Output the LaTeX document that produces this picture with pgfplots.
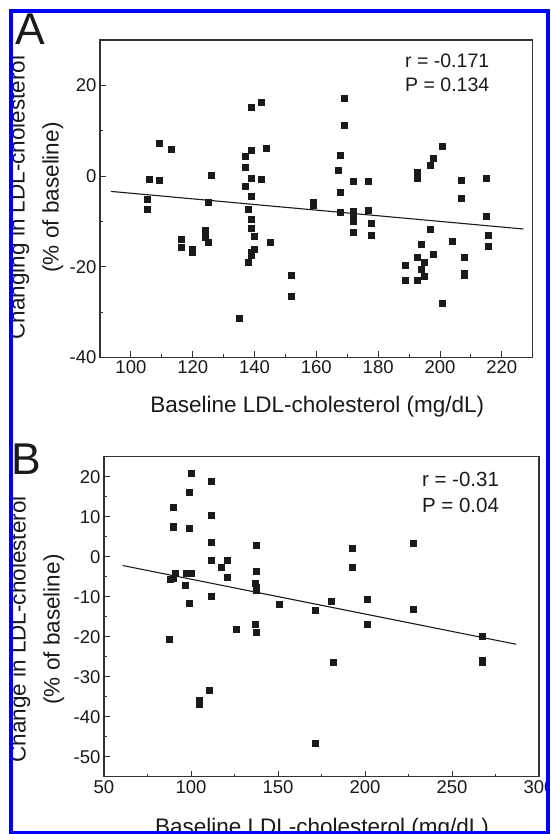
\documentclass[border=0pt]{standalone}
\usepackage{fontspec}
\setmainfont{Liberation Sans}
\usepackage{pgfplots}
\pgfplotsset{compat=1.18}
\definecolor{frameblue}{RGB}{0,0,255}
\definecolor{ink}{RGB}{26,26,26}

\pgfplotstableread{
x y
105.1 -5.2
105.1 -7.3
105.9 -0.8
109.1 7.3
109.1 -1.0
112.9 6.0
116.1 -14.0
116.1 -15.7
119.9 -16.1
119.9 -16.8
124.0 -11.9
124.0 -13.5
124.9 -14.6
124.9 -5.8
125.9 0.15
135.0 -31.3
136.9 4.3
136.9 2.05
136.9 -2.3
138.0 -7.4
138.0 -19.0
138.9 15.1
138.9 5.7
138.9 -0.4
138.9 -4.4
138.9 -9.5
138.9 -11.5
139.8 -13.2
139.8 -16.2
138.8 -16.9
138.8 -17.5
142.0 16.2
142.0 -0.8
143.9 6.2
144.9 -14.6
151.8 -21.8
151.8 -26.5
158.9 -5.8
158.9 -6.5
166.9 1.2
167.8 4.7
167.8 -3.5
167.8 -7.9
168.9 17.1
168.9 11.25
171.8 -1.25
171.8 -7.8
171.8 -8.4
171.8 -10.0
171.8 -12.3
176.9 -1.25
176.9 -7.5
177.8 -10.3
177.8 -13.0
188.7 -19.6
188.7 -22.9
192.7 0.8
192.7 0.2
192.7 -0.4
193.8 -15.1
192.7 -17.8
193.8 -20.6
192.7 -22.9
194.9 -19.1
194.9 -22.2
196.7 2.4
197.8 3.9
200.8 6.5
196.7 -11.8
197.8 -17.2
200.8 -28.1
203.8 -14.3
206.7 -1.0
206.7 -4.9
207.7 -18.0
207.7 -21.5
207.7 -21.9
214.8 -0.45
214.8 -8.9
215.7 -13.0
215.7 -15.4
}\dataA

\pgfplotstableread{
x y
99.8 21.0
111.7 18.8
98.7 16.2
89.8 12.5
111.7 10.3
89.8 7.3
89.8 7.7
98.7 7.2
111.7 3.6
137.7 2.9
111.7 -0.9
120.9 -0.9
117.6 -2.6
120.9 -5.0
137.7 -3.7
90.8 -4.0
97.1 -4.2
99.8 -4.0
87.9 -5.7
89.8 -5.4
96.7 -7.2
136.7 -6.7
137.7 -7.5
137.7 -8.3
111.7 -9.9
98.7 -11.7
150.6 -11.9
125.7 -18.1
136.7 -16.8
137.7 -18.8
87.7 -20.5
110.7 -33.4
104.6 -35.8
104.6 -36.8
192.7 2.1
192.7 -2.6
227.6 3.3
180.6 -11.2
171.6 -13.4
201.5 -10.5
201.5 -16.9
227.6 -13.2
267.6 -19.9
267.6 -25.8
267.6 -26.3
181.6 -26.4
171.6 -46.5
}\dataB

\pgfplotsset{
  panel/.style={
    anchor=south west, scale only axis,
    tick align=inside, tick pos=left,
    major tick length=6pt, minor tick length=3pt,
    axis line style={line width=1.1pt, black!80},
    tick style={line width=0.9pt, black!80},
    tick label style={font=\fontsize{18.5}{22}\selectfont, text=ink},
    /pgf/number format/assume math mode=true,
  },
  pts/.style={only marks, mark=square*, mark size=3pt, mark options={fill=ink, draw=ink, line width=0.3pt}},
  fit/.style={no marks, line width=1.1pt, ink},
}

\begin{document}
\begin{tikzpicture}[x=1pt,y=1pt]
\useasboundingbox (0,0) rectangle (550,834);
\fill[white] (0,0) rectangle (550,834);
\begin{scope}
\clip (13.45,3.25) rectangle (545.95,820.75);

% Panel A
\begin{axis}[panel,
  at={(100pt,476.7pt)}, width=432.7pt, height=317.3pt,
  xmin=90, xmax=230, ymin=-40, ymax=30,
  xtick={100,120,...,220}, minor x tick num=1,
  ytick={-40,-20,0,20}, minor y tick num=1,
]
\addplot[pts] table[x=x,y=y] {\dataA};
\addplot[fit] coordinates {(93.5,-3.4) (227,-11.7)};
\end{axis}

% Panel B
\begin{axis}[panel,
  at={(104pt,57.3pt)}, width=435pt, height=320pt,
  xmin=50, xmax=300, ymin=-55, ymax=25,
  xtick={50,100,...,300}, minor x tick num=1,
  ytick={-50,-40,...,20}, minor y tick num=1,
]
\addplot[pts] table[x=x,y=y] {\dataB};
\addplot[fit] coordinates {(60.7,-2.2) (287,-21.9)};
\end{axis}

% Panel letters
\node[anchor=base west, inner sep=0, font=\fontsize{44.5}{50}\selectfont, text=ink] at (15,789) {A};
\node[anchor=base west, inner sep=0, font=\fontsize{44.5}{50}\selectfont, text=ink] at (11.4,359) {B};

% Annotations
\node[anchor=base west, inner sep=0, font=\fontsize{19.5}{23}\selectfont, text=ink] at (405,766.5) {r = -0.171};
\node[anchor=base west, inner sep=0, font=\fontsize{19.5}{23}\selectfont, text=ink] at (405,742) {P = 0.134};
\node[anchor=base west, inner sep=0, font=\fontsize{20.5}{24}\selectfont, text=ink] at (421.8,347.3) {r = -0.31};
\node[anchor=base west, inner sep=0, font=\fontsize{20.5}{24}\selectfont, text=ink] at (421.8,321) {P = 0.04};

% Axis labels A
\node[anchor=base, inner sep=0, font=\fontsize{22.5}{27}\selectfont, text=ink] at (317.3,421.5) {Baseline LDL-cholesterol (mg/dL)};
\node[rotate=90, anchor=base, inner sep=0, font=\fontsize{22.5}{27}\selectfont, text=ink] at (24.5,636.5) {Changing in LDL-cholesterol};
\node[rotate=90, anchor=base, inner sep=0, font=\fontsize{22.5}{27}\selectfont, text=ink] at (58.5,636.5) {(\% of baseline)};

% Axis labels B
\node[anchor=base, inner sep=0, font=\fontsize{22.5}{27}\selectfont, text=ink] at (322,0) {Baseline LDL-cholesterol (mg/dL)};
\node[rotate=90, anchor=base, inner sep=0, font=\fontsize{22.5}{27}\selectfont, text=ink] at (25.5,204.5) {Change in LDL-cholesterol};
\node[rotate=90, anchor=base, inner sep=0, font=\fontsize{22.5}{27}\selectfont, text=ink] at (59.5,204.5) {(\% of baseline)};
\end{scope}
\draw[frameblue, line width=4.5] (11.2,1.0) rectangle (548.2,823.0);
\end{tikzpicture}
\end{document}
